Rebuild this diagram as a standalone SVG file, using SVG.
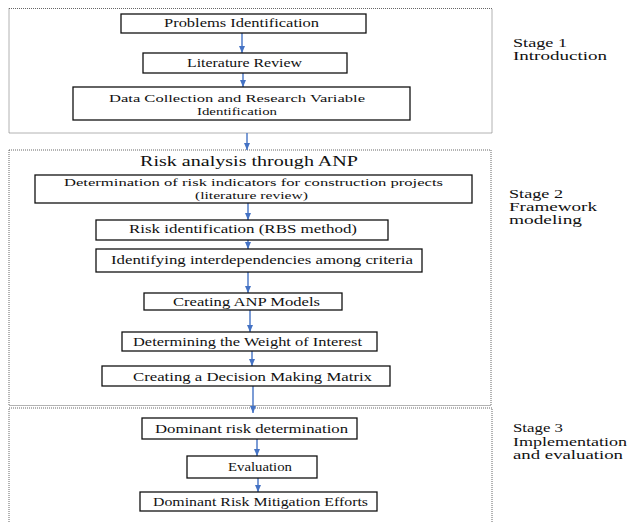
<svg xmlns="http://www.w3.org/2000/svg" width="628" height="522" viewBox="0 0 628 522">
<style>
.stage{fill:none;stroke:#666;stroke-width:1;stroke-dasharray:1 1}
.box{fill:#fff;stroke:#111;stroke-width:1.3}
.arr{stroke:#4472C4;stroke-width:1.4;fill:none;marker-end:url(#ah)}
</style>
<defs>
<marker id="ah" viewBox="0 0 7 6" refX="7" refY="3" markerWidth="7" markerHeight="6" markerUnits="userSpaceOnUse" orient="auto">
<path d="M0,0 L7,3 L0,6 z" fill="#4472C4"/>
</marker>
</defs>
<rect width="628" height="522" fill="#fff"/>

<g id="stages">
<rect id="stage1" class="stage" x="9" y="8.5" width="483" height="124.5"/>
<rect id="stage2" class="stage" x="9" y="150" width="482" height="255.5"/>
<path id="stage3" class="stage" d="M9,526 V408 H492 V526"/>
</g>

<g id="connectors">
<line class="arr" x1="242" y1="33" x2="242" y2="53"/>
<line class="arr" x1="243" y1="73" x2="243" y2="87"/>
<line class="arr" x1="247" y1="133" x2="247" y2="150"/>
<line class="arr" x1="248" y1="203" x2="248" y2="220"/>
<line class="arr" x1="248" y1="240" x2="248" y2="249"/>
<line class="arr" x1="248" y1="272" x2="248" y2="293"/>
<line class="arr" x1="250" y1="310" x2="250" y2="332"/>
<line class="arr" x1="252" y1="351" x2="252" y2="366"/>
<line class="arr" x1="253" y1="386" x2="253" y2="413"/>
<line class="arr" x1="257" y1="439" x2="257" y2="456"/>
<line class="arr" x1="258" y1="478" x2="258" y2="492"/>
</g>

<g font-family="'Liberation Serif', 'Times New Roman', serif" font-size="12" fill="#111">
<g id="n1"><rect class="box" x="121" y="14" width="245" height="19"/>
<text x="164" y="26.5" textLength="155" lengthAdjust="spacingAndGlyphs">Problems Identification</text></g>
<g id="n2"><rect class="box" x="143" y="53" width="204" height="20"/>
<text x="187" y="66.5" textLength="115" lengthAdjust="spacingAndGlyphs">Literature Review</text></g>
<g id="n3"><rect class="box" x="73" y="87" width="337" height="33"/>
<text x="109" y="101.5" font-size="11" textLength="256" lengthAdjust="spacingAndGlyphs">Data Collection and Research Variable</text>
<text x="197" y="114.5" font-size="11" textLength="80" lengthAdjust="spacingAndGlyphs">Identification</text></g>

<g id="title"><text x="140" y="165.5" font-size="15" textLength="218" lengthAdjust="spacingAndGlyphs">Risk analysis through ANP</text></g>

<g id="n4"><rect class="box" x="35" y="175" width="437" height="28"/>
<text x="64" y="185.5" font-size="10" textLength="379" lengthAdjust="spacingAndGlyphs">Determination of risk indicators for construction projects</text>
<text x="195" y="198.5" font-size="10" textLength="113" lengthAdjust="spacingAndGlyphs">(literature review)</text></g>
<g id="n5"><rect class="box" x="96" y="220" width="292" height="20"/>
<text x="129" y="233" textLength="228" lengthAdjust="spacingAndGlyphs">Risk identification (RBS method)</text></g>
<g id="n6"><rect class="box" x="96" y="249" width="326" height="23"/>
<text x="111" y="264" textLength="302" lengthAdjust="spacingAndGlyphs">Identifying interdependencies among criteria</text></g>
<g id="n7"><rect class="box" x="144" y="293" width="198" height="17"/>
<text x="173" y="305.5" textLength="147" lengthAdjust="spacingAndGlyphs">Creating ANP Models</text></g>
<g id="n8"><rect class="box" x="122" y="332" width="255" height="19"/>
<text x="133" y="345.5" textLength="229" lengthAdjust="spacingAndGlyphs">Determining the Weight of Interest</text></g>
<g id="n9"><rect class="box" x="102" y="366" width="288" height="20"/>
<text x="133" y="380.5" textLength="239" lengthAdjust="spacingAndGlyphs">Creating a Decision Making Matrix</text></g>

<g id="n10"><rect class="box" x="142" y="418" width="215" height="21"/>
<text x="155" y="432.5" textLength="193" lengthAdjust="spacingAndGlyphs">Dominant risk determination</text></g>
<g id="n11"><rect class="box" x="187" y="456" width="130" height="22"/>
<text x="228" y="470.5" textLength="64" lengthAdjust="spacingAndGlyphs">Evaluation</text></g>
<g id="n12"><rect class="box" x="140" y="492" width="237" height="19"/>
<text x="153" y="506" textLength="215" lengthAdjust="spacingAndGlyphs">Dominant Risk Mitigation Efforts</text></g>

<g id="labels">
<text x="513" y="47" textLength="54" lengthAdjust="spacingAndGlyphs">Stage 1</text>
<text x="513" y="60" textLength="94" lengthAdjust="spacingAndGlyphs">Introduction</text>
<text x="509" y="198" textLength="54" lengthAdjust="spacingAndGlyphs">Stage 2</text>
<text x="509" y="211" textLength="88" lengthAdjust="spacingAndGlyphs">Framework</text>
<text x="509" y="224" textLength="73" lengthAdjust="spacingAndGlyphs">modeling</text>
<text x="513" y="432" textLength="50" lengthAdjust="spacingAndGlyphs">Stage 3</text>
<text x="513" y="446" textLength="114" lengthAdjust="spacingAndGlyphs">Implementation</text>
<text x="513" y="459" textLength="110" lengthAdjust="spacingAndGlyphs">and evaluation</text>
</g>
</g>
</svg>
